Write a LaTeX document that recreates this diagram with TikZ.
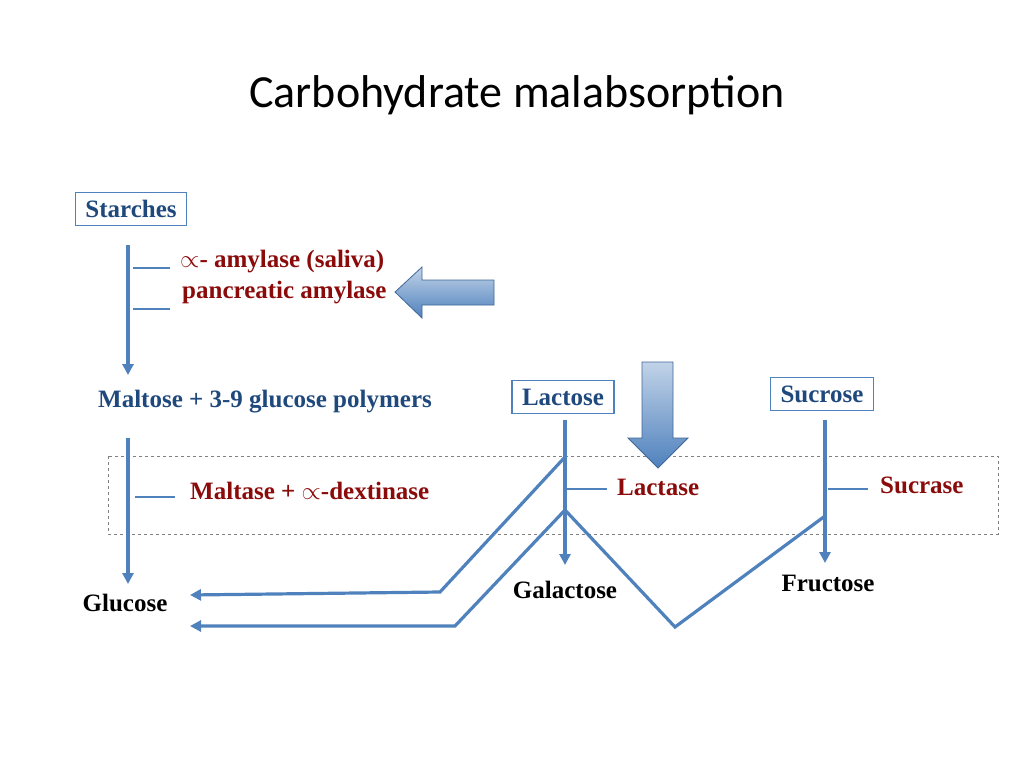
\documentclass[tikz,border=0pt]{standalone}
\usepackage{fontspec}
\setmainfont{Liberation Serif}
\newfontfamily\titlefont{Carlito}
\usetikzlibrary{arrows.meta}
\definecolor{lineblue}{HTML}{4F81BD}
\definecolor{txtblue}{HTML}{1F497D}
\definecolor{txtred}{HTML}{8B0A0A}
\tikzset{
  flow/.style={draw=lineblue, line width=3.2pt},
  flowarr/.style={flow, -{Triangle[length=11pt,width=11pt]}},
  sugarbox/.style={draw=lineblue, line width=1.2pt, fill=white, inner xsep=10pt, inner ysep=8pt, font=\bfseries\fontsize{25}{28}\selectfont, text=txtblue},
  enzyme/.style={anchor=west, inner sep=0pt, font=\bfseries\fontsize{25}{28}\selectfont, text=txtred},
  product/.style={inner sep=0pt, font=\bfseries\fontsize{25}{28}\selectfont},
  bigarr/.style={draw=lineblue!80!black, line width=0.8pt, top color=lineblue!35, bottom color=lineblue}
}
\begin{document}
\begin{tikzpicture}[x=1pt,y=-1pt]
  \useasboundingbox (0,0) rectangle (1024,768);
  \node (title) at (517,95) {\titlefont\fontsize{46}{50}\selectfont Carbohydrate malabsorption};
  % zone of the brush border
  \draw[gray, dashed, line width=0.6pt] (108,456) rectangle (998,534);
  % starches
  \node[sugarbox] (starch) at (131,209) {Starches};
  \coordinate (s1) at (128,245);
  \coordinate (s2) at (128,375);
  \draw[flowarr] (s1) -- (s2);
  \draw[lineblue, line width=1.2pt] (133,268) -- (170,268) (133,309) -- (170,309);
  \node[enzyme] (amyl) at (180,262) {$\propto$- amylase (saliva)};
  \node[enzyme] (panc) at (182,293) {pancreatic amylase};
  \draw[bigarr] (395,292) -- (422,267) -- (422,280) -- (494,280) -- (494,305) -- (422,305) -- (422,318) -- cycle;
  \node[product, text=txtblue] (maltose) at (265,402) {Maltose + 3-9 glucose polymers};
  \coordinate (m1) at (128,438);
  \coordinate (m2) at (128,584);
  \draw[flowarr] (m1) -- (m2);
  \draw[lineblue, line width=1.2pt] (135,497) -- (175,497);
  \node[enzyme] (maltase) at (190,491) {Maltase + $\propto$-dextinase};
  \node[product] (glucose) at (125,603) {Glucose};
  % lactose
  \node[sugarbox] (lactose) at (563,397) {Lactose};
  \draw[bigarr] (642,362) -- (673,362) -- (673,438) -- (688,438) -- (658,468) -- (628,438) -- (642,438) -- cycle;
  \coordinate (l1) at (565,420);
  \coordinate (l2) at (565,565);
  \draw[flowarr] (l1) -- (l2);
  \draw[lineblue, line width=1.2pt] (565,489) -- (607,489);
  \node[enzyme] (lactase) at (617,487) {Lactase};
  \node[product] (galact) at (565,590) {Galactose};
  % sucrose
  \node[sugarbox] (sucrose) at (822,394) {Sucrose};
  \coordinate (c1) at (825,420);
  \coordinate (c2) at (825,563);
  \draw[flowarr] (c1) -- (c2);
  \draw[lineblue, line width=1.2pt] (828,489) -- (868,489);
  \node[enzyme] (sucrase) at (880,485) {Sucrase};
  \node[product] (fruct) at (828,583) {Fructose};
  % monosaccharide routes
  \coordinate (g1) at (190,595);
  \coordinate (g2) at (190,626);
  \coordinate (la) at (565,457);
  \coordinate (lb) at (565,510);
  \coordinate (sa) at (825,516);
  \draw[flowarr] (la) -- (440,592) -- (g1);
  \draw[flowarr] (lb) -- (455,626) -- (g2);
  \draw[flow] (lb) -- (675,627) -- (sa);
\end{tikzpicture}
\end{document}
